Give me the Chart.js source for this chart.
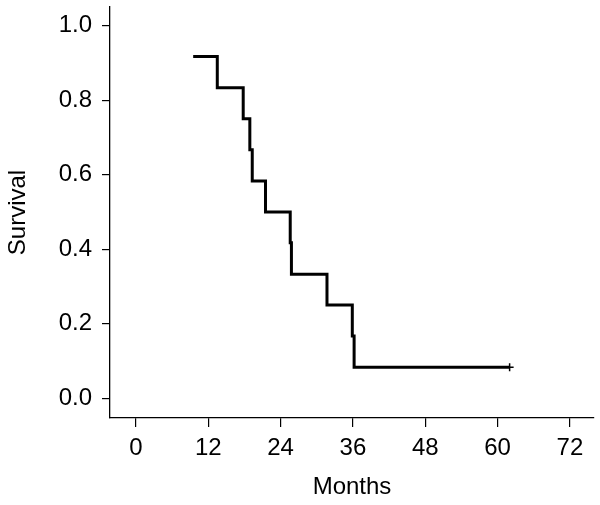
<!DOCTYPE html>
<html>
<head>
<meta charset="utf-8">
<script src="https://cdn.jsdelivr.net/npm/chart.js@4/dist/chart.umd.min.js"></script>
<style>
html,body{margin:0;padding:0;background:#fff;}
#c{display:block;}
</style>
</head>
<body>
<canvas id="c" width="600" height="505"></canvas>
<script>
// Kaplan-Meier step data
const months   = [9.5, 13.5, 17.8, 18.9, 19.3, 21.5, 25.6, 25.8, 31.7, 35.9, 36.2, 62.0];
const survival = [0.917, 0.833, 0.750, 0.667, 0.583, 0.500, 0.417, 0.333, 0.250, 0.167, 0.083, 0.083];
const censored = [false, false, false, false, false, false, false, false, false, false, false, true];
const xTicks = [0, 12, 24, 36, 48, 60, 72];
const yTicks = [0.0, 0.2, 0.4, 0.6, 0.8, 1.0];
const xTitle = 'Months';
const yTitle = 'Survival';

const FONT = '"Liberation Sans", Arial, Helvetica, sans-serif';
const points = months.map((m, i) => ({x: m, y: survival[i]}));

new Chart(document.getElementById('c'), {
  type: 'line',
  data: {
    datasets: [{
      data: points,
      stepped: 'before',
      borderColor: '#000',
      borderWidth: 3,
      borderCapStyle: 'butt',
      borderJoinStyle: 'miter',
      fill: false,
      pointStyle: 'cross',
      pointRadius: censored.map(c => c ? 4 : 0),
      pointHoverRadius: censored.map(c => c ? 4 : 0),
      pointBorderColor: '#000',
      pointBorderWidth: 1.5,
      tension: 0
    }]
  },
  options: {
    responsive: false,
    animation: false,
    events: [],
    layout: {padding: {left: 0, right: 6, top: 7, bottom: 0}},
    plugins: {legend: {display: false}, tooltip: {enabled: false}},
    scales: {
      x: {
        type: 'linear',
        min: -4.3,
        max: 76,
        afterBuildTicks: s => { s.ticks = xTicks.map(v => ({value: v})); },
        afterFit: s => { s.height = 87; s.paddingLeft = 0; s.paddingRight = 0; },
        grid: {display: true, drawOnChartArea: false, drawTicks: true, tickLength: 9, color: '#000', lineWidth: 1.2},
        border: {display: true, color: '#000', width: 1.3},
        ticks: {color: '#000', font: {family: FONT, size: 24}, padding: 7, maxRotation: 0, autoSkip: false,
                callback: v => String(v)},
        title: {display: true, text: xTitle, color: '#000', font: {family: FONT, size: 24}, padding: {top: 0, bottom: 3}}
      },
      y: {
        type: 'linear',
        min: -0.053,
        max: 1.05,
        afterBuildTicks: s => { s.ticks = yTicks.map(v => ({value: v})); },
        afterFit: s => { s.width = 110; s.paddingTop = 0; s.paddingBottom = 0; },
        grid: {display: true, drawOnChartArea: false, drawTicks: true, tickLength: 8, color: '#000', lineWidth: 1.2},
        border: {display: true, color: '#000', width: 1.3},
        ticks: {color: '#000', font: {family: FONT, size: 24}, padding: 10, autoSkip: false,
                callback: v => Number(v).toFixed(1)},
        title: {display: true, text: yTitle, color: '#000', font: {family: FONT, size: 24}, padding: {top: 4, bottom: 0}}
      }
    }
  }
});
</script>
</body>
</html>
